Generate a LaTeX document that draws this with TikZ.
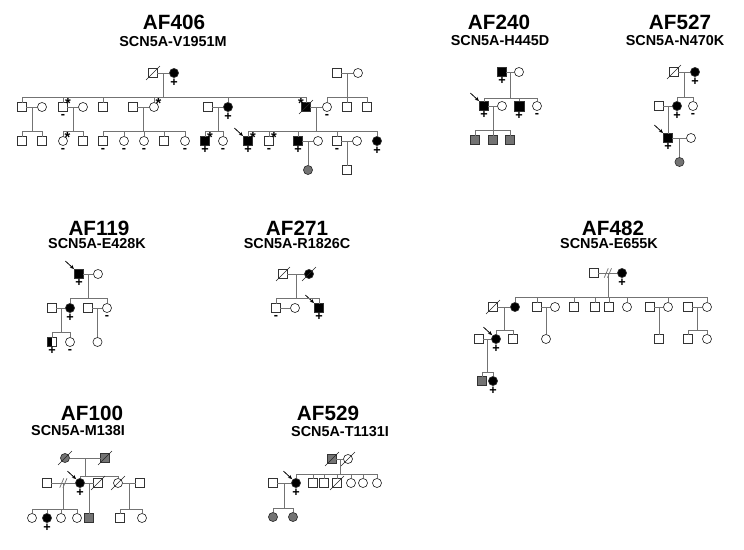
\documentclass[tikz,border=0pt]{standalone}
\usepackage{fontspec}
\setmainfont{Liberation Sans}
\usetikzlibrary{calc,arrows.meta}
\tikzset{
  ln/.style={draw=black!55, line width=0.55pt},
  dl/.style={draw=black!85, line width=0.5pt},
  sym/.style={draw=black!80, line width=0.5pt, inner sep=0pt, outer sep=0pt, fill=white},
  M/.style={sym, rectangle, minimum size=6.4pt},
  F/.style={sym, circle, minimum size=6.8pt},
  aff/.style={fill=black},
  gry/.style={fill=black!55},
  half/.style={path picture={\fill[black] (path picture bounding box.south west) rectangle (path picture bounding box.north);}},
  pm/.style={font=\fontsize{9.5}{9.5}\selectfont\bfseries, inner sep=0pt, anchor=center, label distance=3.6pt},
  plus/.style={label={[pm]below:+}},
  minus/.style={label={[pm]below:-}},
  stm/.style={font=\fontsize{11}{11}\selectfont\bfseries, inner sep=0pt, anchor=center, label distance=0.6pt},
  st/.style={label={[stm]35:*}},
  stl/.style={label={[stm]145:*}},
  ttl/.style={font=\fontsize{15.5}{15.5}\selectfont\bfseries, inner sep=0pt},
  sub/.style={font=\fontsize{10.8}{10.8}\selectfont\bfseries, inner sep=0pt},
  arr/.style={-{Stealth[length=3pt,width=2.8pt]}, line width=0.6pt, black}
}
\newcommand\dead[1]{\draw[dl] ([xshift=-5.2pt,yshift=-5.2pt]#1.center) -- ([xshift=5.2pt,yshift=5.2pt]#1.center);}
\newcommand\prob[1]{\draw[arr] ([xshift=-7pt,yshift=6.5pt]#1.north west) -- ([xshift=-0.6pt,yshift=0.6pt]#1.north west);}
\newcommand\cpl[3]{\draw[ln] (#1) -- (#2); \coordinate (#3) at ($(#1)!0.5!(#2)$);}
\newcommand\sepmark[1]{\draw[ln] ([xshift=-2.8pt,yshift=-3.5pt]#1) -- ([xshift=0.2pt,yshift=3.5pt]#1);
  \draw[ln] ([xshift=-0.4pt,yshift=-3.5pt]#1) -- ([xshift=2.6pt,yshift=3.5pt]#1);}
\newcommand\kids[5]{%
  \coordinate (sy) at (0,#2);
  \draw[ln] (#1) -- (#1 |- sy);
  \draw[ln] (#3.north |- sy) -- (#4.north |- sy);
  \foreach \kid in {#5} {\draw[ln] (\kid.north) -- (\kid.north |- sy);}
}
\newcommand\one[2]{\draw[ln] (#1) -- (#1 |- #2.north);}
\begin{document}
\begin{tikzpicture}[x=0.75pt,y=-0.75pt]
\fill[white] (0,0) rectangle (744,550);
\useasboundingbox (0,0) rectangle (744,550);

% titles
\node[ttl] (t406) at (174,22) {AF406};
\node[sub] (s406) at (173,42) {SCN5A-V1951M};
\node[ttl] (t240) at (499,22) {AF240};
\node[sub] (s240) at (500,41) {SCN5A-H445D};
\node[ttl] (t527) at (680,22) {AF527};
\node[sub] (s527) at (675,41) {SCN5A-N470K};
\node[ttl] (t119) at (99,228) {AF119};
\node[sub] (s119) at (97,244) {SCN5A-E428K};
\node[ttl] (t271) at (297,228) {AF271};
\node[sub] (s271) at (297,244) {SCN5A-R1826C};
\node[ttl] (t482) at (613,228) {AF482};
\node[sub] (s482) at (609,244) {SCN5A-E655K};
\node[ttl] (t100) at (92,413) {AF100};
\node[sub] (s100) at (78,431) {SCN5A-M138I};
\node[ttl] (t529) at (328,413) {AF529};
\node[sub] (s529) at (340,432) {SCN5A-T1131I};

% ===== AF406 =====
\node[M] (a1) at (153,73) {};
\node[F,aff,plus] (a2) at (174,73) {};
\dead{a1}
\cpl{a1}{a2}{am}
\node[M] (a3) at (22,107) {};
\node[F] (a4) at (42,107) {};
\node[M,minus,st] (a5) at (63,107) {};
\node[F] (a6) at (83,107) {};
\node[M] (a7) at (103,107) {};
\node[M] (a8) at (133,107) {};
\node[F,st] (a9) at (154,107) {};
\node[M] (a10) at (208,107) {};
\node[F,aff,plus] (a11) at (228,107) {};
\node[M,aff,stl] (a12) at (306,107) {};
\dead{a12}
\node[F,minus] (a13) at (327,107) {};
\node[M] (a14) at (347,107) {};
\node[M] (a15) at (367,107) {};
\node[M] (a16) at (337,73) {};
\node[F] (a17) at (358,73) {};
\kids{am}{97}{a3}{a12}{a3,a5,a7,a9,a11,a12}
\cpl{a16}{a17}{am2}
\kids{am2}{97}{a13}{a15}{a13,a14,a15}
\cpl{a3}{a4}{am3}
\cpl{a5}{a6}{am4}
\cpl{a8}{a9}{am5}
\cpl{a10}{a11}{am6}
\cpl{a12}{a13}{am7}
\node[M] (b1) at (22,141) {};
\node[M] (b2) at (42,141) {};
\kids{am3}{131}{b1}{b2}{b1,b2}
\node[F,minus,st] (b3) at (63,141) {};
\node[M] (b4) at (83,141) {};
\kids{am4}{131}{b3}{b4}{b3,b4}
\node[M,minus] (b5) at (103,141) {};
\node[F,minus] (b6) at (124,141) {};
\node[F,minus] (b7) at (144,141) {};
\node[M] (b8) at (164,141) {};
\node[F,minus] (b9) at (185,141) {};
\kids{am5}{131}{b5}{b9}{b5,b6,b7,b8,b9}
\node[M,aff,plus,st] (b10) at (205,141) {};
\node[F,minus] (b11) at (223,141) {};
\kids{am6}{131}{b10}{b11}{b10,b11}
\node[M,aff,plus,st] (b12) at (248,141) {};
\prob{b12}
\node[M,minus,st] (b13) at (269,141) {};
\node[M,aff,plus] (b14) at (298,141) {};
\node[F] (b15) at (318,141) {};
\node[M,minus] (b16) at (337,141) {};
\node[F] (b17) at (357,141) {};
\node[F,aff,plus] (b18) at (377,141) {};
\kids{am7}{131}{b12}{b18}{b12,b13,b14,b16,b18}
\cpl{b14}{b15}{bm1}
\cpl{b16}{b17}{bm2}
\node[F,gry] (c1) at (308,170) {};
\one{bm1}{c1}
\node[M] (c2) at (347,170) {};
\one{bm2}{c2}

% ===== AF240 =====
\node[M,aff,plus] (d1) at (502,72) {};
\node[F] (d2) at (519,72) {};
\cpl{d1}{d2}{dm}
\node[M,aff,plus] (d3) at (484,106) {};
\prob{d3}
\node[F] (d4) at (502,106) {};
\node[M,aff,plus,minimum size=7.6pt] (d5) at (519,106) {};
\node[F,minus] (d6) at (537,106) {};
\kids{dm}{98}{d3}{d6}{d3,d5,d6}
\cpl{d3}{d4}{dm2}
\node[M,gry] (d7) at (475,140) {};
\node[M,gry] (d8) at (493,140) {};
\node[M,gry] (d9) at (510,140) {};
\kids{dm2}{130}{d7}{d9}{d7,d8,d9}

% ===== AF527 =====
\node[M] (e1) at (674,72) {};
\dead{e1}
\node[F,aff,plus] (e2) at (695,72) {};
\cpl{e1}{e2}{em}
\node[M] (e3) at (659,106) {};
\node[F,aff,plus] (e4) at (677,106) {};
\node[F,minus] (e5) at (693,106) {};
\kids{em}{97}{e4}{e5}{e4,e5}
\cpl{e3}{e4}{em2}
\node[M,aff,plus] (e6) at (668,138) {};
\prob{e6}
\one{em2}{e6}
\node[F] (e7) at (691,138) {};
\cpl{e6}{e7}{em3}
\node[F,gry] (e8) at (679.5,162) {};
\one{em3}{e8}

% ===== AF119 =====
\node[M,aff,plus] (f1) at (79,274) {};
\prob{f1}
\node[F] (f2) at (98,274) {};
\cpl{f1}{f2}{fm}
\node[M] (f3) at (52,308) {};
\node[F,aff,plus] (f4) at (70,308) {};
\node[M] (f5) at (88,308) {};
\node[F,minus] (f6) at (107,308) {};
\kids{fm}{298}{f4}{f6}{f4,f6}
\cpl{f3}{f4}{fm2}
\cpl{f5}{f6}{fm3}
\node[M,half,plus] (f7) at (52,342) {};
\node[F,minus] (f8) at (70,342) {};
\kids{fm2}{332}{f7}{f8}{f7,f8}
\node[F] (f9) at (97.5,342) {};
\one{fm3}{f9}

% ===== AF271 =====
\node[M] (g1) at (283,274) {};
\node[F,aff] (g2) at (309,274) {};
\dead{g1}
\dead{g2}
\cpl{g1}{g2}{gm}
\node[M,minus] (g3) at (276,308) {};
\node[F] (g4) at (295,308) {};
\node[M,aff,plus] (g5) at (319,308) {};
\prob{g5}
\kids{gm}{298}{g3}{g5}{g3,g5}
\draw[ln] (g3) -- (g4);

% ===== AF482 =====
\node[M] (h1) at (594,273) {};
\node[F,aff,plus] (h2) at (622,273) {};
\cpl{h1}{h2}{hm}
\sepmark{hm}
\node[M] (h3) at (493,307) {};
\dead{h3}
\node[F,aff] (h4) at (515,307) {};
\node[M] (h5) at (537,307) {};
\node[F] (h6) at (555,307) {};
\node[M] (h7) at (574,307) {};
\node[M] (h8) at (595,307) {};
\node[M] (h9) at (609,307) {};
\node[F] (h10) at (627,307) {};
\node[M] (h11) at (650,307) {};
\node[F] (h12) at (668,307) {};
\node[M] (h13) at (688,307) {};
\node[F] (h14) at (707,307) {};
\kids{hm}{297}{h4}{h14}{h4,h5,h7,h8,h9,h10,h12,h14}
\cpl{h3}{h4}{hm2}
\node[F,aff,plus] (h15) at (496,339) {};
\prob{h15}
\node[M] (h16) at (513,339) {};
\kids{hm2}{330}{h15}{h16}{h15,h16}
\node[M] (h17) at (479,339) {};
\cpl{h17}{h15}{hm3}
\node[M,gry] (h18) at (482,381) {};
\node[F,aff,plus] (h19) at (493,381) {};
\kids{hm3}{372}{h18}{h19}{h18,h19}
\cpl{h5}{h6}{hm4}
\node[F] (h20) at (546,339) {};
\one{hm4}{h20}
\cpl{h11}{h12}{hm5}
\node[M] (h21) at (659,339) {};
\one{hm5}{h21}
\cpl{h13}{h14}{hm6}
\node[M] (h22) at (688,339) {};
\node[F] (h23) at (707,339) {};
\kids{hm6}{330}{h22}{h23}{h22,h23}

% ===== AF100 =====
\node[F,gry] (i1) at (65,458) {};
\node[M,gry] (i2) at (105,458) {};
\dead{i1}
\dead{i2}
\cpl{i1}{i2}{im}
\node[F,aff,plus] (i3) at (80,483) {};
\prob{i3}
\node[F] (i4) at (118,483) {};
\dead{i4}
\kids{im}{476}{i3}{i4}{i3,i4}
\node[M] (i5) at (47,483) {};
\cpl{i5}{i3}{im2}
\sepmark{im2}
\node[M] (i6) at (98,483) {};
\dead{i6}
\cpl{i3}{i6}{im3}
\node[M] (i7) at (140,483) {};
\cpl{i4}{i7}{im4}
\node[F] (i8) at (32,518) {};
\node[F,aff,plus] (i9) at (47,518) {};
\node[F] (i10) at (61,518) {};
\node[F] (i11) at (77,518) {};
\kids{im2}{509}{i8}{i11}{i8,i9,i10,i11}
\node[M,gry] (i12) at (89,518) {};
\one{im3}{i12}
\node[M] (i13) at (120,518) {};
\node[F] (i14) at (142,518) {};
\kids{im4}{509}{i13}{i14}{i13,i14}

% ===== AF529 =====
\node[M,gry] (j1) at (332,459) {};
\node[F] (j2) at (348,459) {};
\dead{j1}
\dead{j2}
\cpl{j1}{j2}{jm}
\node[F,aff,plus] (j3) at (296,483) {};
\prob{j3}
\node[M] (j4) at (313,483) {};
\node[M] (j5) at (324,483) {};
\node[M] (j6) at (337,483) {};
\dead{j6}
\node[F] (j7) at (351,483) {};
\node[F] (j8) at (363,483) {};
\node[F] (j9) at (377,483) {};
\kids{jm}{474}{j3}{j9}{j3,j4,j5,j6,j7,j8,j9}
\node[M] (j10) at (273,483) {};
\cpl{j10}{j3}{jm2}
\node[F,gry] (j11) at (273,517) {};
\node[F,gry] (j12) at (293,517) {};
\kids{jm2}{508}{j11}{j12}{j11,j12}
\end{tikzpicture}
\end{document}
